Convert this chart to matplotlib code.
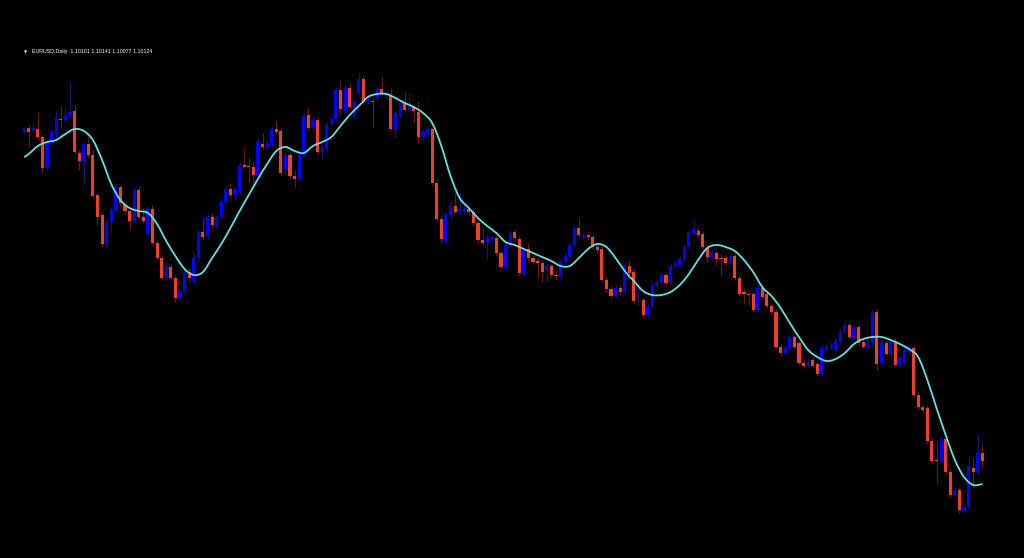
import matplotlib
matplotlib.use("Agg")
import matplotlib.pyplot as plt
from matplotlib.path import Path
from matplotlib.patches import PathPatch
import numpy as np

# EURUSD daily candles, prices in pips (1 pip = 0.0001)
opens = [11368, 11372, 11370, 11371, 11363, 11332, 11357, 11365, 11381, 11380,
         11385, 11389, 11347, 11339, 11356, 11345, 11305, 11285, 11255, 11278,
         11290, 11313, 11295, 11289, 11279, 11310, 11283, 11267, 11291, 11257,
         11242, 11222, 11233, 11222, 11202, 11208, 11228, 11219, 11242, 11268,
         11264, 11283, 11273, 11283, 11298, 11311, 11305, 11308, 11335, 11334,
         11333, 11325, 11356, 11353, 11355, 11371, 11369, 11331, 11345, 11324,
         11321, 11345, 11385, 11372, 11380, 11348, 11351, 11377, 11381, 11410,
         11389, 11412, 11383, 11407, 11421, 11398, 11399, 11402, 11411, 11404,
         11404, 11371, 11384, 11397, 11390, 11393, 11388, 11363, 11367, 11371,
         11317, 11281, 11259, 11285, 11294, 11288, 11289, 11291, 11288, 11277,
         11260, 11257, 11261, 11262, 11247, 11233, 11255, 11268, 11261, 11227,
         11251, 11242, 11239, 11237, 11230, 11234, 11225, 11223, 11238, 11244,
         11255, 11272, 11263, 11265, 11263, 11253, 11251, 11220, 11211, 11204,
         11212, 11208, 11234, 11228, 11210, 11200, 11185, 11194, 11214, 11218,
         11225, 11217, 11234, 11235, 11241, 11253, 11267, 11269, 11266, 11252,
         11243, 11247, 11242, 11242, 11237, 11244, 11222, 11208, 11206, 11206,
         11190, 11212, 11206, 11194, 11188, 11153, 11147, 11152, 11163, 11157,
         11137, 11134, 11140, 11136, 11126, 11151, 11153, 11150, 11158, 11168,
         11175, 11163, 11173, 11158, 11153, 11157, 11188, 11137, 11157, 11146,
         11159, 11135, 11137, 11148, 11152, 11105, 11093, 11092, 11059, 11040,
         11039, 11061, 11028, 11005, 11010, 10989, 10993, 11032, 11028, 11047]
highs = [11373, 11375, 11378, 11388, 11365, 11360, 11370, 11390, 11393, 11393,
         11418, 11395, 11350, 11358, 11363, 11350, 11307, 11288, 11282, 11293,
         11316, 11315, 11297, 11291, 11312, 11314, 11293, 11294, 11295, 11260,
         11245, 11238, 11236, 11225, 11212, 11230, 11232, 11247, 11270, 11283,
         11286, 11287, 11286, 11302, 11313, 11317, 11314, 11338, 11352, 11342,
         11338, 11362, 11367, 11360, 11374, 11381, 11372, 11348, 11348, 11330,
         11350, 11387, 11393, 11383, 11383, 11356, 11378, 11384, 11413, 11420,
         11415, 11417, 11401, 11428, 11424, 11404, 11402, 11414, 11423, 11408,
         11412, 11390, 11400, 11408, 11408, 11395, 11398, 11371, 11374, 11373,
         11322, 11284, 11288, 11299, 11307, 11308, 11296, 11294, 11291, 11280,
         11272, 11266, 11265, 11265, 11250, 11258, 11270, 11270, 11264, 11253,
         11257, 11245, 11242, 11240, 11237, 11237, 11230, 11241, 11247, 11258,
         11275, 11282, 11268, 11268, 11266, 11256, 11254, 11223, 11214, 11215,
         11215, 11238, 11240, 11231, 11213, 11203, 11197, 11217, 11221, 11228,
         11228, 11237, 11239, 11244, 11256, 11271, 11280, 11272, 11269, 11255,
         11250, 11250, 11246, 11245, 11247, 11247, 11225, 11211, 11209, 11209,
         11215, 11215, 11209, 11197, 11191, 11156, 11155, 11166, 11166, 11160,
         11140, 11141, 11143, 11139, 11155, 11156, 11158, 11162, 11171, 11180,
         11178, 11175, 11176, 11161, 11160, 11190, 11191, 11160, 11160, 11162,
         11162, 11145, 11153, 11155, 11155, 11108, 11096, 11095, 11062, 11060,
         11064, 11064, 11031, 11013, 11013, 10996, 11044, 11043, 11065, 11056]
lows = [11366, 11353, 11369, 11360, 11328, 11330, 11354, 11363, 11372, 11378,
        11384, 11346, 11330, 11317, 11342, 11302, 11275, 11253, 11252, 11267,
        11288, 11294, 11286, 11270, 11277, 11281, 11277, 11264, 11255, 11240,
        11220, 11219, 11220, 11198, 11200, 11206, 11218, 11215, 11238, 11260,
        11261, 11272, 11270, 11281, 11296, 11303, 11300, 11306, 11332, 11318,
        11318, 11323, 11351, 11350, 11353, 11366, 11325, 11325, 11322, 11313,
        11319, 11343, 11370, 11369, 11346, 11340, 11349, 11375, 11379, 11385,
        11387, 11391, 11381, 11405, 11396, 11396, 11373, 11400, 11404, 11402,
        11369, 11362, 11382, 11388, 11388, 11378, 11357, 11360, 11365, 11315,
        11279, 11257, 11257, 11282, 11286, 11285, 11287, 11285, 11274, 11257,
        11255, 11240, 11259, 11244, 11231, 11230, 11253, 11259, 11225, 11225,
        11239, 11236, 11222, 11218, 11218, 11222, 11220, 11221, 11236, 11242,
        11253, 11263, 11261, 11260, 11251, 11247, 11218, 11208, 11201, 11202,
        11205, 11206, 11225, 11197, 11195, 11183, 11183, 11192, 11212, 11216,
        11215, 11215, 11232, 11233, 11239, 11251, 11265, 11263, 11251, 11238,
        11241, 11235, 11225, 11235, 11235, 11220, 11204, 11197, 11195, 11188,
        11188, 11201, 11192, 11186, 11151, 11144, 11145, 11150, 11151, 11135,
        11132, 11132, 11132, 11124, 11124, 11149, 11151, 11148, 11156, 11166,
        11161, 11161, 11155, 11151, 11151, 11155, 11130, 11135, 11144, 11144,
        11133, 11133, 11135, 11146, 11103, 11091, 11088, 11057, 11037, 11017,
        11037, 11026, 11003, 11003, 10987, 10987, 10991, 11012, 11026, 11033]
closes = [11372, 11368, 11372, 11363, 11332, 11358, 11368, 11382, 11380, 11385,
          11388, 11348, 11339, 11356, 11345, 11304, 11283, 11256, 11278, 11290,
          11313, 11297, 11289, 11279, 11310, 11283, 11279, 11291, 11257, 11242,
          11222, 11234, 11222, 11202, 11208, 11228, 11222, 11242, 11268, 11263,
          11283, 11275, 11283, 11298, 11311, 11305, 11311, 11334, 11333, 11333,
          11325, 11358, 11353, 11356, 11371, 11368, 11327, 11345, 11324, 11321,
          11345, 11384, 11372, 11380, 11348, 11353, 11375, 11381, 11410, 11391,
          11412, 11393, 11398, 11421, 11398, 11400, 11398, 11411, 11407, 11406,
          11371, 11387, 11397, 11390, 11393, 11389, 11363, 11368, 11371, 11317,
          11281, 11261, 11285, 11294, 11288, 11291, 11292, 11288, 11277, 11260,
          11257, 11263, 11262, 11247, 11233, 11255, 11267, 11262, 11227, 11250,
          11242, 11238, 11237, 11228, 11234, 11225, 11224, 11238, 11244, 11255,
          11272, 11265, 11265, 11263, 11253, 11250, 11220, 11211, 11204, 11212,
          11208, 11235, 11227, 11199, 11211, 11185, 11194, 11214, 11218, 11225,
          11217, 11234, 11236, 11241, 11253, 11268, 11271, 11265, 11253, 11243,
          11247, 11241, 11241, 11237, 11244, 11222, 11206, 11206, 11205, 11190,
          11212, 11203, 11194, 11188, 11153, 11147, 11152, 11163, 11153, 11137,
          11134, 11138, 11134, 11126, 11152, 11153, 11155, 11159, 11168, 11175,
          11163, 11172, 11157, 11153, 11157, 11187, 11136, 11157, 11146, 11159,
          11135, 11142, 11150, 11152, 11105, 11093, 11090, 11059, 11039, 11039,
          11061, 11028, 11005, 11010, 10990, 10993, 11034, 11028, 11047, 11039]

# moving average (read every second bar)
ma_bars = [0] + list(range(1, 210, 2))
ma_vals = [11343, 11346, 11354, 11358, 11360, 11366, 11371, 11369, 11360, 11340,
           11316, 11300, 11292, 11289, 11287, 11276, 11259, 11244, 11231, 11225,
           11228, 11242, 11256, 11272, 11289, 11305, 11321, 11336, 11349, 11353,
           11349, 11347, 11354, 11358, 11363, 11374, 11385, 11394, 11403, 11406,
           11406, 11402, 11397, 11393, 11387, 11377, 11354, 11324, 11302, 11292,
           11282, 11274, 11267, 11258, 11255, 11251, 11247, 11243, 11239, 11234,
           11234, 11242, 11251, 11256, 11253, 11242, 11229, 11219, 11209, 11205,
           11205, 11208, 11215, 11226, 11240, 11252, 11255, 11253, 11249, 11240,
           11228, 11213, 11204, 11192, 11177, 11163, 11150, 11143, 11139, 11141,
           11147, 11156, 11161, 11163, 11163, 11160, 11156, 11151, 11143, 11120,
           11092, 11065, 11040, 11023, 11015, 11016]

title = "EURUSD,Daily  1.10101 1.10141 1.10077 1.10124"

o = np.array(opens) / 1e4
h = np.array(highs) / 1e4
l = np.array(lows) / 1e4
c = np.array(closes) / 1e4
x = np.arange(len(o))
up = c >= o

RED = "#ec402a"
BLUE = "#0000ff"

fig = plt.figure(figsize=(10.24, 5.58), dpi=100, facecolor="black")
ax = fig.add_axes([0, 0, 1, 1])
ax.set_facecolor("black")

# wicks
ax.vlines(x, l, h, colors=np.where(up, "#16166e", "#6a1a12"), linewidth=0.8, zorder=1)

# bodies
body = np.maximum(np.abs(c - o), 0.00012)
ax.bar(x, body, bottom=np.minimum(o, c), width=0.68,
       color=np.where(up, BLUE, RED), linewidth=0, zorder=2)

# MA drawn as a smooth curve (catmull-rom -> bezier) through the read points
pts = np.column_stack([ma_bars, np.array(ma_vals) / 1e4]).astype(float)
ext = np.vstack([pts[0], pts, pts[-1]])
verts = [tuple(pts[0])]
codes = [Path.MOVETO]
for i in range(1, len(ext) - 2):
    p0, p1, p2, p3 = ext[i - 1], ext[i], ext[i + 1], ext[i + 2]
    verts += [tuple(p1 + (p2 - p0) / 6), tuple(p2 - (p3 - p1) / 6), tuple(p2)]
    codes += [Path.CURVE4] * 3
ax.add_patch(PathPatch(Path(verts, codes), facecolor="none", edgecolor="#62e2e2",
                       linewidth=1.3, zorder=3))

ax.set_xlim(-5.26, 218.08)
ax.set_ylim(1.0942, 1.15)
ax.axis("off")

fig.text(26 / 1024, 1 - 52 / 558, "\u25bc", color="white", fontsize=3, va="center", ha="center")
fig.text(32 / 1024, 1 - 52 / 558, title, color="white", fontsize=3.8,
         family="Liberation Sans", va="center", ha="left")

fig.savefig("out.png", dpi=100, facecolor="black")
